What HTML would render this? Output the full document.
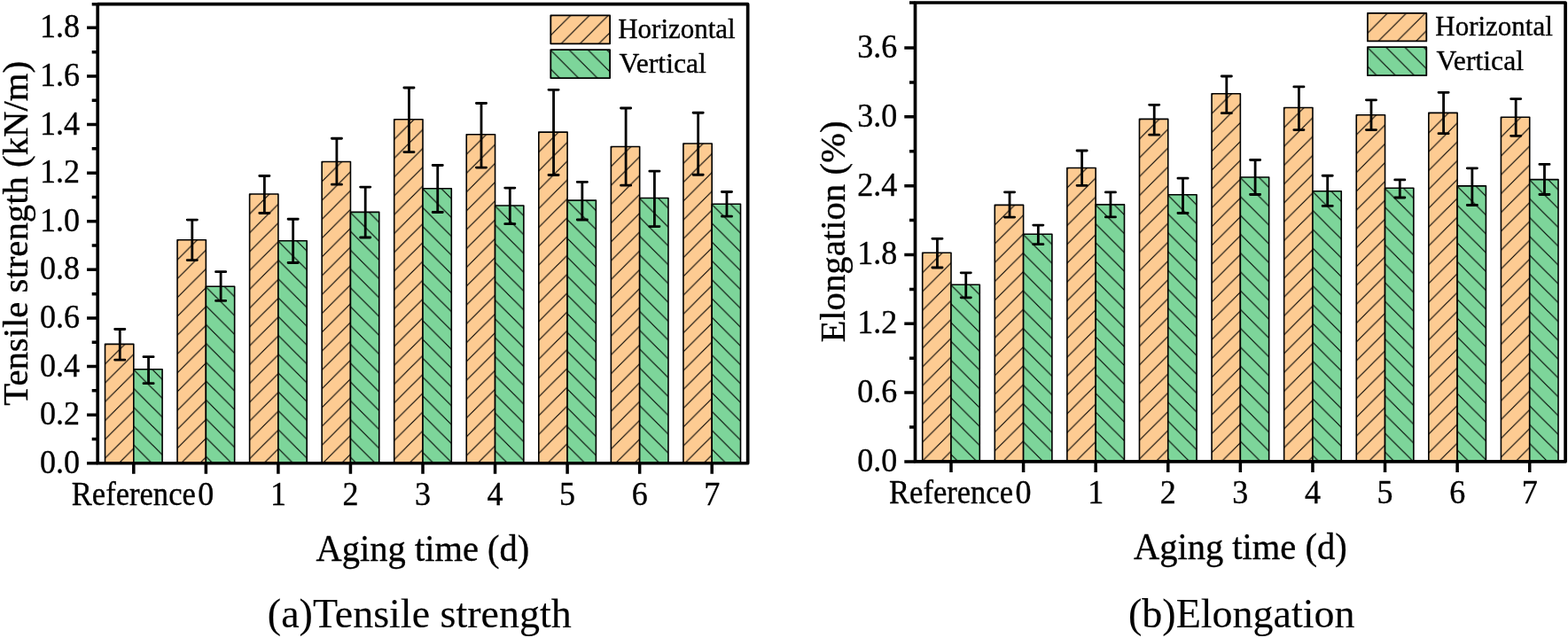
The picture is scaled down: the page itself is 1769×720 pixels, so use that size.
<!DOCTYPE html><html><head><meta charset="utf-8"><title>Tensile strength and Elongation</title>
<style>html,body{margin:0;padding:0;background:#fff;}body{width:1769px;height:720px;overflow:hidden;}svg{display:block;}</style></head><body>
<svg width="1769" height="720" viewBox="0 0 1769 720" font-family="'Liberation Serif', 'Times New Roman', serif" stroke-linejoin="round">
<style>text{stroke:#000;stroke-width:0.35px;paint-order:stroke;}</style>
<defs>
<pattern id="p1" patternUnits="userSpaceOnUse" x="118.5" y="389.6" width="21.25" height="21.25"><rect width="21.25" height="21.25" fill="#FDCB92"/><path d="M-2,23.25L23.25,-2M-23.25,23.25L2,-2M19.25,23.25L44.5,-2" stroke="#000" stroke-width="1.15"/></pattern>
<pattern id="p2" patternUnits="userSpaceOnUse" x="150.8" y="417.2" width="21.25" height="21.25"><rect width="21.25" height="21.25" fill="#7DD59A"/><path d="M-2,-2L23.25,23.25M-23.25,-2L2,23.25M19.25,-2L44.5,23.25" stroke="#000" stroke-width="1.15"/></pattern>
<pattern id="p3" patternUnits="userSpaceOnUse" x="200.05" y="272" width="21.25" height="21.25"><rect width="21.25" height="21.25" fill="#FDCB92"/><path d="M-2,23.25L23.25,-2M-23.25,23.25L2,-2M19.25,23.25L44.5,-2" stroke="#000" stroke-width="1.15"/></pattern>
<pattern id="p4" patternUnits="userSpaceOnUse" x="232.35" y="323.8" width="21.25" height="21.25"><rect width="21.25" height="21.25" fill="#7DD59A"/><path d="M-2,-2L23.25,23.25M-23.25,-2L2,23.25M19.25,-2L44.5,23.25" stroke="#000" stroke-width="1.15"/></pattern>
<pattern id="p5" patternUnits="userSpaceOnUse" x="281.6" y="220.2" width="21.25" height="21.25"><rect width="21.25" height="21.25" fill="#FDCB92"/><path d="M-2,23.25L23.25,-2M-23.25,23.25L2,-2M19.25,23.25L44.5,-2" stroke="#000" stroke-width="1.15"/></pattern>
<pattern id="p6" patternUnits="userSpaceOnUse" x="313.9" y="272.25" width="21.25" height="21.25"><rect width="21.25" height="21.25" fill="#7DD59A"/><path d="M-2,-2L23.25,23.25M-23.25,-2L2,23.25M19.25,-2L44.5,23.25" stroke="#000" stroke-width="1.15"/></pattern>
<pattern id="p7" patternUnits="userSpaceOnUse" x="363.15" y="183.7" width="21.25" height="21.25"><rect width="21.25" height="21.25" fill="#FDCB92"/><path d="M-2,23.25L23.25,-2M-23.25,23.25L2,-2M19.25,23.25L44.5,-2" stroke="#000" stroke-width="1.15"/></pattern>
<pattern id="p8" patternUnits="userSpaceOnUse" x="395.45" y="239.9" width="21.25" height="21.25"><rect width="21.25" height="21.25" fill="#7DD59A"/><path d="M-2,-2L23.25,23.25M-23.25,-2L2,23.25M19.25,-2L44.5,23.25" stroke="#000" stroke-width="1.15"/></pattern>
<pattern id="p9" patternUnits="userSpaceOnUse" x="444.7" y="136" width="21.25" height="21.25"><rect width="21.25" height="21.25" fill="#FDCB92"/><path d="M-2,23.25L23.25,-2M-23.25,23.25L2,-2M19.25,23.25L44.5,-2" stroke="#000" stroke-width="1.15"/></pattern>
<pattern id="p10" patternUnits="userSpaceOnUse" x="477" y="213.2" width="21.25" height="21.25"><rect width="21.25" height="21.25" fill="#7DD59A"/><path d="M-2,-2L23.25,23.25M-23.25,-2L2,23.25M19.25,-2L44.5,23.25" stroke="#000" stroke-width="1.15"/></pattern>
<pattern id="p11" patternUnits="userSpaceOnUse" x="526.25" y="152.95" width="21.25" height="21.25"><rect width="21.25" height="21.25" fill="#FDCB92"/><path d="M-2,23.25L23.25,-2M-23.25,23.25L2,-2M19.25,23.25L44.5,-2" stroke="#000" stroke-width="1.15"/></pattern>
<pattern id="p12" patternUnits="userSpaceOnUse" x="558.55" y="232.5" width="21.25" height="21.25"><rect width="21.25" height="21.25" fill="#7DD59A"/><path d="M-2,-2L23.25,23.25M-23.25,-2L2,23.25M19.25,-2L44.5,23.25" stroke="#000" stroke-width="1.15"/></pattern>
<pattern id="p13" patternUnits="userSpaceOnUse" x="607.8" y="150.3" width="21.25" height="21.25"><rect width="21.25" height="21.25" fill="#FDCB92"/><path d="M-2,23.25L23.25,-2M-23.25,23.25L2,-2M19.25,23.25L44.5,-2" stroke="#000" stroke-width="1.15"/></pattern>
<pattern id="p14" patternUnits="userSpaceOnUse" x="640.1" y="226.6" width="21.25" height="21.25"><rect width="21.25" height="21.25" fill="#7DD59A"/><path d="M-2,-2L23.25,23.25M-23.25,-2L2,23.25M19.25,-2L44.5,23.25" stroke="#000" stroke-width="1.15"/></pattern>
<pattern id="p15" patternUnits="userSpaceOnUse" x="689.35" y="166.7" width="21.25" height="21.25"><rect width="21.25" height="21.25" fill="#FDCB92"/><path d="M-2,23.25L23.25,-2M-23.25,23.25L2,-2M19.25,23.25L44.5,-2" stroke="#000" stroke-width="1.15"/></pattern>
<pattern id="p16" patternUnits="userSpaceOnUse" x="721.65" y="224" width="21.25" height="21.25"><rect width="21.25" height="21.25" fill="#7DD59A"/><path d="M-2,-2L23.25,23.25M-23.25,-2L2,23.25M19.25,-2L44.5,23.25" stroke="#000" stroke-width="1.15"/></pattern>
<pattern id="p17" patternUnits="userSpaceOnUse" x="770.9" y="163.2" width="21.25" height="21.25"><rect width="21.25" height="21.25" fill="#FDCB92"/><path d="M-2,23.25L23.25,-2M-23.25,23.25L2,-2M19.25,23.25L44.5,-2" stroke="#000" stroke-width="1.15"/></pattern>
<pattern id="p18" patternUnits="userSpaceOnUse" x="803.2" y="230.7" width="21.25" height="21.25"><rect width="21.25" height="21.25" fill="#7DD59A"/><path d="M-2,-2L23.25,23.25M-23.25,-2L2,23.25M19.25,-2L44.5,23.25" stroke="#000" stroke-width="1.15"/></pattern>
<pattern id="p19" patternUnits="userSpaceOnUse" x="621.3" y="18.6" width="21.25" height="21.25"><rect width="21.25" height="21.25" fill="#FDCB92"/><path d="M-2,23.25L23.25,-2M-23.25,23.25L2,-2M19.25,23.25L44.5,-2" stroke="#000" stroke-width="1.15"/></pattern>
<pattern id="p20" patternUnits="userSpaceOnUse" x="621.3" y="56.7" width="21.25" height="21.25"><rect width="21.25" height="21.25" fill="#7DD59A"/><path d="M-2,-2L23.25,23.25M-23.25,-2L2,23.25M19.25,-2L44.5,23.25" stroke="#000" stroke-width="1.15"/></pattern>
<pattern id="p21" patternUnits="userSpaceOnUse" x="1040.7" y="286.5" width="21.25" height="21.25"><rect width="21.25" height="21.25" fill="#FDCB92"/><path d="M-2,23.25L23.25,-2M-23.25,23.25L2,-2M19.25,23.25L44.5,-2" stroke="#000" stroke-width="1.15"/></pattern>
<pattern id="p22" patternUnits="userSpaceOnUse" x="1073" y="321.7" width="21.25" height="21.25"><rect width="21.25" height="21.25" fill="#7DD59A"/><path d="M-2,-2L23.25,23.25M-23.25,-2L2,23.25M19.25,-2L44.5,23.25" stroke="#000" stroke-width="1.15"/></pattern>
<pattern id="p23" patternUnits="userSpaceOnUse" x="1122.29" y="232.6" width="21.25" height="21.25"><rect width="21.25" height="21.25" fill="#FDCB92"/><path d="M-2,23.25L23.25,-2M-23.25,23.25L2,-2M19.25,23.25L44.5,-2" stroke="#000" stroke-width="1.15"/></pattern>
<pattern id="p24" patternUnits="userSpaceOnUse" x="1154.59" y="264.8" width="21.25" height="21.25"><rect width="21.25" height="21.25" fill="#7DD59A"/><path d="M-2,-2L23.25,23.25M-23.25,-2L2,23.25M19.25,-2L44.5,23.25" stroke="#000" stroke-width="1.15"/></pattern>
<pattern id="p25" patternUnits="userSpaceOnUse" x="1203.88" y="190.7" width="21.25" height="21.25"><rect width="21.25" height="21.25" fill="#FDCB92"/><path d="M-2,23.25L23.25,-2M-23.25,23.25L2,-2M19.25,23.25L44.5,-2" stroke="#000" stroke-width="1.15"/></pattern>
<pattern id="p26" patternUnits="userSpaceOnUse" x="1236.18" y="231.4" width="21.25" height="21.25"><rect width="21.25" height="21.25" fill="#7DD59A"/><path d="M-2,-2L23.25,23.25M-23.25,-2L2,23.25M19.25,-2L44.5,23.25" stroke="#000" stroke-width="1.15"/></pattern>
<pattern id="p27" patternUnits="userSpaceOnUse" x="1285.47" y="135.6" width="21.25" height="21.25"><rect width="21.25" height="21.25" fill="#FDCB92"/><path d="M-2,23.25L23.25,-2M-23.25,23.25L2,-2M19.25,23.25L44.5,-2" stroke="#000" stroke-width="1.15"/></pattern>
<pattern id="p28" patternUnits="userSpaceOnUse" x="1317.77" y="220.3" width="21.25" height="21.25"><rect width="21.25" height="21.25" fill="#7DD59A"/><path d="M-2,-2L23.25,23.25M-23.25,-2L2,23.25M19.25,-2L44.5,23.25" stroke="#000" stroke-width="1.15"/></pattern>
<pattern id="p29" patternUnits="userSpaceOnUse" x="1367.06" y="107" width="21.25" height="21.25"><rect width="21.25" height="21.25" fill="#FDCB92"/><path d="M-2,23.25L23.25,-2M-23.25,23.25L2,-2M19.25,23.25L44.5,-2" stroke="#000" stroke-width="1.15"/></pattern>
<pattern id="p30" patternUnits="userSpaceOnUse" x="1399.36" y="200.5" width="21.25" height="21.25"><rect width="21.25" height="21.25" fill="#7DD59A"/><path d="M-2,-2L23.25,23.25M-23.25,-2L2,23.25M19.25,-2L44.5,23.25" stroke="#000" stroke-width="1.15"/></pattern>
<pattern id="p31" patternUnits="userSpaceOnUse" x="1448.65" y="122.7" width="21.25" height="21.25"><rect width="21.25" height="21.25" fill="#FDCB92"/><path d="M-2,23.25L23.25,-2M-23.25,23.25L2,-2M19.25,23.25L44.5,-2" stroke="#000" stroke-width="1.15"/></pattern>
<pattern id="p32" patternUnits="userSpaceOnUse" x="1480.95" y="216.25" width="21.25" height="21.25"><rect width="21.25" height="21.25" fill="#7DD59A"/><path d="M-2,-2L23.25,23.25M-23.25,-2L2,23.25M19.25,-2L44.5,23.25" stroke="#000" stroke-width="1.15"/></pattern>
<pattern id="p33" patternUnits="userSpaceOnUse" x="1530.24" y="130.9" width="21.25" height="21.25"><rect width="21.25" height="21.25" fill="#FDCB92"/><path d="M-2,23.25L23.25,-2M-23.25,23.25L2,-2M19.25,23.25L44.5,-2" stroke="#000" stroke-width="1.15"/></pattern>
<pattern id="p34" patternUnits="userSpaceOnUse" x="1562.54" y="212.75" width="21.25" height="21.25"><rect width="21.25" height="21.25" fill="#7DD59A"/><path d="M-2,-2L23.25,23.25M-23.25,-2L2,23.25M19.25,-2L44.5,23.25" stroke="#000" stroke-width="1.15"/></pattern>
<pattern id="p35" patternUnits="userSpaceOnUse" x="1611.83" y="128.6" width="21.25" height="21.25"><rect width="21.25" height="21.25" fill="#FDCB92"/><path d="M-2,23.25L23.25,-2M-23.25,23.25L2,-2M19.25,23.25L44.5,-2" stroke="#000" stroke-width="1.15"/></pattern>
<pattern id="p36" patternUnits="userSpaceOnUse" x="1644.13" y="210.4" width="21.25" height="21.25"><rect width="21.25" height="21.25" fill="#7DD59A"/><path d="M-2,-2L23.25,23.25M-23.25,-2L2,23.25M19.25,-2L44.5,23.25" stroke="#000" stroke-width="1.15"/></pattern>
<pattern id="p37" patternUnits="userSpaceOnUse" x="1693.42" y="133.5" width="21.25" height="21.25"><rect width="21.25" height="21.25" fill="#FDCB92"/><path d="M-2,23.25L23.25,-2M-23.25,23.25L2,-2M19.25,23.25L44.5,-2" stroke="#000" stroke-width="1.15"/></pattern>
<pattern id="p38" patternUnits="userSpaceOnUse" x="1725.72" y="203.1" width="21.25" height="21.25"><rect width="21.25" height="21.25" fill="#7DD59A"/><path d="M-2,-2L23.25,23.25M-23.25,-2L2,23.25M19.25,-2L44.5,23.25" stroke="#000" stroke-width="1.15"/></pattern>
<pattern id="p39" patternUnits="userSpaceOnUse" x="1542.9" y="16.16" width="21.25" height="21.25"><rect width="21.25" height="21.25" fill="#FDCB92"/><path d="M-2,23.25L23.25,-2M-23.25,23.25L2,-2M19.25,23.25L44.5,-2" stroke="#000" stroke-width="1.15"/></pattern>
<pattern id="p40" patternUnits="userSpaceOnUse" x="1542.9" y="53.7" width="21.25" height="21.25"><rect width="21.25" height="21.25" fill="#7DD59A"/><path d="M-2,-2L23.25,23.25M-23.25,-2L2,23.25M19.25,-2L44.5,23.25" stroke="#000" stroke-width="1.15"/></pattern>
</defs>
<rect width="1769" height="720" fill="#fff"/>
<rect x="118.5" y="388.4" width="32.3" height="134.35" fill="url(#p1)" stroke="#000" stroke-width="1.6"/>
<rect x="150.8" y="416.7" width="32.3" height="106.05" fill="url(#p2)" stroke="#000" stroke-width="1.6"/>
<rect x="200.05" y="270.8" width="32.3" height="251.95" fill="url(#p3)" stroke="#000" stroke-width="1.6"/>
<rect x="232.35" y="323.3" width="32.3" height="199.45" fill="url(#p4)" stroke="#000" stroke-width="1.6"/>
<rect x="281.6" y="219" width="32.3" height="303.75" fill="url(#p5)" stroke="#000" stroke-width="1.6"/>
<rect x="313.9" y="271.75" width="32.3" height="251" fill="url(#p6)" stroke="#000" stroke-width="1.6"/>
<rect x="363.15" y="182.5" width="32.3" height="340.25" fill="url(#p7)" stroke="#000" stroke-width="1.6"/>
<rect x="395.45" y="239.4" width="32.3" height="283.35" fill="url(#p8)" stroke="#000" stroke-width="1.6"/>
<rect x="444.7" y="134.8" width="32.3" height="387.95" fill="url(#p9)" stroke="#000" stroke-width="1.6"/>
<rect x="477" y="212.7" width="32.3" height="310.05" fill="url(#p10)" stroke="#000" stroke-width="1.6"/>
<rect x="526.25" y="151.75" width="32.3" height="371" fill="url(#p11)" stroke="#000" stroke-width="1.6"/>
<rect x="558.55" y="232" width="32.3" height="290.75" fill="url(#p12)" stroke="#000" stroke-width="1.6"/>
<rect x="607.8" y="149.1" width="32.3" height="373.65" fill="url(#p13)" stroke="#000" stroke-width="1.6"/>
<rect x="640.1" y="226.1" width="32.3" height="296.65" fill="url(#p14)" stroke="#000" stroke-width="1.6"/>
<rect x="689.35" y="165.5" width="32.3" height="357.25" fill="url(#p15)" stroke="#000" stroke-width="1.6"/>
<rect x="721.65" y="223.5" width="32.3" height="299.25" fill="url(#p16)" stroke="#000" stroke-width="1.6"/>
<rect x="770.9" y="162" width="32.3" height="360.75" fill="url(#p17)" stroke="#000" stroke-width="1.6"/>
<rect x="803.2" y="230.2" width="32.3" height="292.55" fill="url(#p18)" stroke="#000" stroke-width="1.6"/>
<path d="M135.25,371.5V406.2M129.65,371.5H140.85M129.65,406.2H140.85M167.55,402.7V432.7M161.95,402.7H173.15M161.95,432.7H173.15M216.8,248.1V293.6M211.2,248.1H222.4M211.2,293.6H222.4M249.1,306.7V339.4M243.5,306.7H254.7M243.5,339.4H254.7M298.35,198.5V240.5M292.75,198.5H303.95M292.75,240.5H303.95M330.65,247.25V296.5M325.05,247.25H336.25M325.05,296.5H336.25M379.9,156.25V208.2M374.3,156.25H385.5M374.3,208.2H385.5M412.2,211.1V268M406.6,211.1H417.8M406.6,268H417.8M461.45,99V171.6M455.85,99H467.05M455.85,171.6H467.05M493.75,186.5V239.5M488.15,186.5H499.35M488.15,239.5H499.35M543,116.5V189.1M537.4,116.5H548.6M537.4,189.1H548.6M575.3,212.1V252.7M569.7,212.1H580.9M569.7,252.7H580.9M624.55,101.3V197.5M618.95,101.3H630.15M618.95,197.5H630.15M656.85,205.4V248M651.25,205.4H662.45M651.25,248H662.45M706.1,122V209.2M700.5,122H711.7M700.5,209.2H711.7M738.4,193.2V255.6M732.8,193.2H744M732.8,255.6H744M787.65,127.25V197.25M782.05,127.25H793.25M782.05,197.25H793.25M819.95,216.5V244.2M814.35,216.5H825.55M814.35,244.2H825.55" stroke="#000" stroke-width="2.8" stroke-linecap="round" fill="none"/>
<path d="M98,522.75H110.2M103.7,495.45H110.2M98,468.15H110.2M103.7,440.85H110.2M98,413.55H110.2M103.7,386.25H110.2M98,358.95H110.2M103.7,331.65H110.2M98,304.35H110.2M103.7,277.05H110.2M98,249.75H110.2M103.7,222.45H110.2M98,195.15H110.2M103.7,167.85H110.2M98,140.55H110.2M103.7,113.25H110.2M98,85.95H110.2M103.7,58.65H110.2M98,31.35H110.2M103.7,4.65H110.2M150.8,522.75V534.75M232.35,522.75V534.75M313.9,522.75V534.75M395.45,522.75V534.75M477,522.75V534.75M558.55,522.75V534.75M640.1,522.75V534.75M721.65,522.75V534.75M803.2,522.75V534.75" stroke="#000" stroke-width="3.5" fill="none"/>
<rect x="110.2" y="4.65" width="733.45" height="518.1" fill="none" stroke="#000" stroke-width="3.7"/>
<text transform="translate(90,533.75) scale(1,1.03)" font-size="36" text-anchor="end">0.0</text>
<text transform="translate(90,479.15) scale(1,1.03)" font-size="36" text-anchor="end">0.2</text>
<text transform="translate(90,424.55) scale(1,1.03)" font-size="36" text-anchor="end">0.4</text>
<text transform="translate(90,369.95) scale(1,1.03)" font-size="36" text-anchor="end">0.6</text>
<text transform="translate(90,315.35) scale(1,1.03)" font-size="36" text-anchor="end">0.8</text>
<text transform="translate(90,260.75) scale(1,1.03)" font-size="36" text-anchor="end">1.0</text>
<text transform="translate(90,206.15) scale(1,1.03)" font-size="36" text-anchor="end">1.2</text>
<text transform="translate(90,151.55) scale(1,1.03)" font-size="36" text-anchor="end">1.4</text>
<text transform="translate(90,96.95) scale(1,1.03)" font-size="36" text-anchor="end">1.6</text>
<text transform="translate(90,42.35) scale(1,1.03)" font-size="36" text-anchor="end">1.8</text>
<text transform="translate(150.8,569.6) scale(1,1.03)" font-size="36" text-anchor="middle" textLength="140" lengthAdjust="spacingAndGlyphs">Reference</text>
<text transform="translate(232.35,569.6) scale(1,1.03)" font-size="36" text-anchor="middle">0</text>
<text transform="translate(313.9,569.6) scale(1,1.03)" font-size="36" text-anchor="middle">1</text>
<text transform="translate(395.45,569.6) scale(1,1.03)" font-size="36" text-anchor="middle">2</text>
<text transform="translate(477,569.6) scale(1,1.03)" font-size="36" text-anchor="middle">3</text>
<text transform="translate(558.55,569.6) scale(1,1.03)" font-size="36" text-anchor="middle">4</text>
<text transform="translate(640.1,569.6) scale(1,1.03)" font-size="36" text-anchor="middle">5</text>
<text transform="translate(721.65,569.6) scale(1,1.03)" font-size="36" text-anchor="middle">6</text>
<text transform="translate(803.2,569.6) scale(1,1.03)" font-size="36" text-anchor="middle">7</text>
<text transform="translate(476.93,633) scale(1,1.03)" font-size="40.5" text-anchor="middle">Aging time (d)</text>
<text transform="translate(31.25,263.3) rotate(-90)" font-size="40.75" text-anchor="middle">Tensile strength (kN/m)</text>
<text x="473.3" y="708.2" font-size="46" text-anchor="middle" style="stroke-width:0.12px">(a)Tensile strength</text>
<rect x="621.3" y="17.4" width="66.8" height="31.9" fill="url(#p19)" stroke="#000" stroke-width="1.8"/>
<rect x="621.3" y="56.2" width="66.8" height="31.9" fill="url(#p20)" stroke="#000" stroke-width="1.8"/>
<text transform="translate(697.2,43.3) scale(1,1.035)" font-size="31">Horizontal</text>
<text transform="translate(698.4,81.5) scale(1,1.035)" font-size="31" textLength="98.5" lengthAdjust="spacingAndGlyphs">Vertical</text>
<rect x="1040.7" y="285.3" width="32.3" height="235.6" fill="url(#p21)" stroke="#000" stroke-width="1.6"/>
<rect x="1073" y="321.2" width="32.3" height="199.7" fill="url(#p22)" stroke="#000" stroke-width="1.6"/>
<rect x="1122.29" y="231.4" width="32.3" height="289.5" fill="url(#p23)" stroke="#000" stroke-width="1.6"/>
<rect x="1154.59" y="264.3" width="32.3" height="256.6" fill="url(#p24)" stroke="#000" stroke-width="1.6"/>
<rect x="1203.88" y="189.5" width="32.3" height="331.4" fill="url(#p25)" stroke="#000" stroke-width="1.6"/>
<rect x="1236.18" y="230.9" width="32.3" height="290" fill="url(#p26)" stroke="#000" stroke-width="1.6"/>
<rect x="1285.47" y="134.4" width="32.3" height="386.5" fill="url(#p27)" stroke="#000" stroke-width="1.6"/>
<rect x="1317.77" y="219.8" width="32.3" height="301.1" fill="url(#p28)" stroke="#000" stroke-width="1.6"/>
<rect x="1367.06" y="105.8" width="32.3" height="415.1" fill="url(#p29)" stroke="#000" stroke-width="1.6"/>
<rect x="1399.36" y="200" width="32.3" height="320.9" fill="url(#p30)" stroke="#000" stroke-width="1.6"/>
<rect x="1448.65" y="121.5" width="32.3" height="399.4" fill="url(#p31)" stroke="#000" stroke-width="1.6"/>
<rect x="1480.95" y="215.75" width="32.3" height="305.15" fill="url(#p32)" stroke="#000" stroke-width="1.6"/>
<rect x="1530.24" y="129.7" width="32.3" height="391.2" fill="url(#p33)" stroke="#000" stroke-width="1.6"/>
<rect x="1562.54" y="212.25" width="32.3" height="308.65" fill="url(#p34)" stroke="#000" stroke-width="1.6"/>
<rect x="1611.83" y="127.4" width="32.3" height="393.5" fill="url(#p35)" stroke="#000" stroke-width="1.6"/>
<rect x="1644.13" y="209.9" width="32.3" height="311" fill="url(#p36)" stroke="#000" stroke-width="1.6"/>
<rect x="1693.42" y="132.3" width="32.3" height="388.6" fill="url(#p37)" stroke="#000" stroke-width="1.6"/>
<rect x="1725.72" y="202.6" width="32.3" height="318.3" fill="url(#p38)" stroke="#000" stroke-width="1.6"/>
<path d="M1057.45,269.3V302M1051.85,269.3H1063.05M1051.85,302H1063.05M1089.75,307.8V335.8M1084.15,307.8H1095.35M1084.15,335.8H1095.35M1139.04,216.8V245.1M1133.44,216.8H1144.64M1133.44,245.1H1144.64M1171.34,254.1V275.7M1165.74,254.1H1176.94M1165.74,275.7H1176.94M1220.63,170V209.3M1215.03,170H1226.23M1215.03,209.3H1226.23M1252.93,216.9V244.9M1247.33,216.9H1258.53M1247.33,244.9H1258.53M1302.22,118.3V152.2M1296.62,118.3H1307.82M1296.62,152.2H1307.82M1334.52,201.2V240.5M1328.92,201.2H1340.12M1328.92,240.5H1340.12M1383.81,86V127.7M1378.21,86H1389.41M1378.21,127.7H1389.41M1416.11,180.5V219.5M1410.51,180.5H1421.71M1410.51,219.5H1421.71M1465.4,97.9V146.6M1459.8,97.9H1471M1459.8,146.6H1471M1497.7,198.25V232.4M1492.1,198.25H1503.3M1492.1,232.4H1503.3M1546.99,112.8V146.6M1541.39,112.8H1552.59M1541.39,146.6H1552.59M1579.29,202.9V223M1573.69,202.9H1584.89M1573.69,223H1584.89M1628.58,104.3V150.7M1622.98,104.3H1634.18M1622.98,150.7H1634.18M1660.88,189.8V231.5M1655.28,189.8H1666.48M1655.28,231.5H1666.48M1710.17,111.6V153.3M1704.57,111.6H1715.77M1704.57,153.3H1715.77M1742.47,185.4V219.5M1736.87,185.4H1748.07M1736.87,219.5H1748.07" stroke="#000" stroke-width="2.8" stroke-linecap="round" fill="none"/>
<path d="M1020.3,520.9H1032.5M1026,482H1032.5M1020.3,443.09H1032.5M1026,404.19H1032.5M1020.3,365.28H1032.5M1026,326.38H1032.5M1020.3,287.48H1032.5M1026,248.57H1032.5M1020.3,209.67H1032.5M1026,170.76H1032.5M1020.3,131.86H1032.5M1026,92.96H1032.5M1020.3,54.05H1032.5M1026,3H1032.5M1073,520.9V532.9M1154.59,520.9V532.9M1236.18,520.9V532.9M1317.77,520.9V532.9M1399.36,520.9V532.9M1480.95,520.9V532.9M1562.54,520.9V532.9M1644.13,520.9V532.9M1725.72,520.9V532.9" stroke="#000" stroke-width="3.5" fill="none"/>
<rect x="1032.5" y="3" width="733.6" height="517.9" fill="none" stroke="#000" stroke-width="3.7"/>
<text transform="translate(1012.3,531.9) scale(1,1.03)" font-size="36" text-anchor="end">0.0</text>
<text transform="translate(1012.3,454.09) scale(1,1.03)" font-size="36" text-anchor="end">0.6</text>
<text transform="translate(1012.3,376.28) scale(1,1.03)" font-size="36" text-anchor="end">1.2</text>
<text transform="translate(1012.3,298.48) scale(1,1.03)" font-size="36" text-anchor="end">1.8</text>
<text transform="translate(1012.3,220.67) scale(1,1.03)" font-size="36" text-anchor="end">2.4</text>
<text transform="translate(1012.3,142.86) scale(1,1.03)" font-size="36" text-anchor="end">3.0</text>
<text transform="translate(1012.3,65.05) scale(1,1.03)" font-size="36" text-anchor="end">3.6</text>
<text transform="translate(1073,567.6) scale(1,1.03)" font-size="36" text-anchor="middle" textLength="140" lengthAdjust="spacingAndGlyphs">Reference</text>
<text transform="translate(1154.59,567.6) scale(1,1.03)" font-size="36" text-anchor="middle">0</text>
<text transform="translate(1236.18,567.6) scale(1,1.03)" font-size="36" text-anchor="middle">1</text>
<text transform="translate(1317.77,567.6) scale(1,1.03)" font-size="36" text-anchor="middle">2</text>
<text transform="translate(1399.36,567.6) scale(1,1.03)" font-size="36" text-anchor="middle">3</text>
<text transform="translate(1480.95,567.6) scale(1,1.03)" font-size="36" text-anchor="middle">4</text>
<text transform="translate(1562.54,567.6) scale(1,1.03)" font-size="36" text-anchor="middle">5</text>
<text transform="translate(1644.13,567.6) scale(1,1.03)" font-size="36" text-anchor="middle">6</text>
<text transform="translate(1725.72,567.6) scale(1,1.03)" font-size="36" text-anchor="middle">7</text>
<text transform="translate(1399.3,630.6) scale(1,1.03)" font-size="40.5" text-anchor="middle">Aging time (d)</text>
<text transform="translate(953.3,261.55) rotate(-90)" font-size="40.75" text-anchor="middle">Elongation (%)</text>
<text x="1400.8" y="708.2" font-size="46" text-anchor="middle" style="stroke-width:0.12px">(b)Elongation</text>
<rect x="1542.9" y="14.96" width="66.4" height="31.5" fill="url(#p39)" stroke="#000" stroke-width="1.8"/>
<rect x="1542.9" y="53.2" width="66.4" height="32" fill="url(#p40)" stroke="#000" stroke-width="1.8"/>
<text transform="translate(1619.3,40.4) scale(1,1.035)" font-size="31">Horizontal</text>
<text transform="translate(1620.5,79.1) scale(1,1.035)" font-size="31" textLength="98.5" lengthAdjust="spacingAndGlyphs">Vertical</text>
</svg></body></html>
